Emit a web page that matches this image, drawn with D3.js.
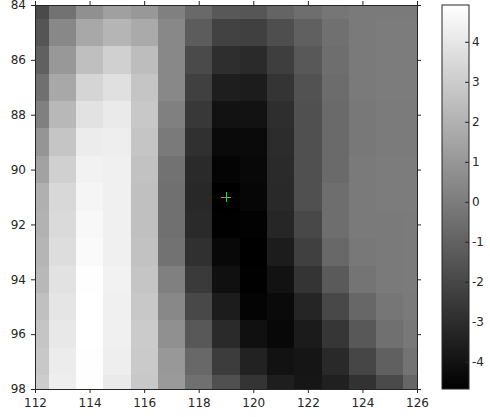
<!DOCTYPE html>
<html>
<head>
<meta charset="utf-8">
<script src="https://cdn.jsdelivr.net/npm/d3@7"></script>
<style>
  body { margin: 0; background: #fff; }
  text { font-family: "DejaVu Sans", sans-serif; font-size: 12px; fill: #262626; }
</style>
</head>
<body>
<div id="chart"></div>
<script>
// grid coordinates
const xValues = d3.range(112, 127);   // 112 .. 126
const yValues = d3.range(84, 99);     // 84 .. 98
const xTicks = [112, 114, 116, 118, 120, 122, 124, 126];
const yTicks = [84, 86, 88, 90, 92, 94, 96, 98];
const cbTicks = [-4, -3, -2, -1, 0, 1, 2, 3, 4];
const colorMin = -4.68, colorMax = 4.92;
const marker = [119, 91];

// one row per y value (84 at top), one entry per x value 112..126
const row84 = [-1.89, -0.39, 0.74, 1.34, 1.04, 0.14, -0.72, -1.37, -1.45, -0.90, -0.55, -0.25, -0.10, -0.09, -0.09];
const row85 = [-1.48, 0.44, 1.65, 2.13, 1.72, 0.44, -1.22, -2.20, -2.27, -1.74, -1.07, -0.46, -0.09, -0.02, -0.02];
const row86 = [-1.07, 1.04, 2.51, 3.15, 2.44, 0.44, -1.89, -2.95, -3.10, -2.35, -1.37, -0.54, -0.09, -0.02, -0.02];
const row87 = [-0.46, 1.65, 3.34, 3.75, 2.74, 0.44, -2.27, -3.55, -3.63, -2.72, -1.59, -0.61, -0.09, -0.02, -0.02];
const row88 = [0.14, 2.25, 3.83, 4.13, 2.85, 0.14, -2.57, -4.00, -4.00, -2.95, -1.67, -0.69, -0.16, -0.05, -0.05];
const row89 = [0.93, 2.74, 4.21, 4.28, 2.74, -0.09, -2.87, -4.30, -4.30, -3.02, -1.67, -0.69, -0.16, -0.05, -0.05];
const row90 = [1.42, 3.15, 4.43, 4.36, 2.62, -0.39, -3.10, -4.53, -4.38, -3.10, -1.67, -0.69, -0.09, -0.03, -0.03];
const row91 = [1.95, 3.45, 4.54, 4.36, 2.55, -0.46, -3.17, -4.68, -4.45, -3.13, -1.67, -0.54, -0.09, -0.02, -0.02];
const row92 = [2.02, 3.53, 4.66, 4.36, 2.55, -0.46, -3.10, -4.66, -4.60, -3.25, -1.97, -0.54, -0.09, -0.09, -0.05];
const row93 = [2.13, 3.64, 4.73, 4.36, 2.62, -0.39, -2.87, -4.38, -4.68, -3.63, -2.27, -0.76, -0.16, -0.09, -0.05];
const row94 = [2.25, 3.83, 4.88, 4.43, 2.74, 0.14, -2.50, -4.08, -4.66, -4.00, -2.72, -1.29, -0.31, -0.09, -0.05];
const row95 = [2.55, 3.94, 4.92, 4.36, 2.85, 0.44, -1.97, -3.63, -4.53, -4.30, -3.28, -1.97, -0.80, -0.24, -0.09];
const row96 = [2.74, 4.05, 4.92, 4.36, 2.96, 0.74, -1.37, -3.10, -4.08, -4.38, -3.66, -2.65, -1.37, -0.46, -0.16];
const row97 = [2.85, 4.21, 4.90, 4.28, 2.93, 1.04, -0.76, -2.42, -3.40, -4.00, -3.89, -3.13, -2.04, -1.07, -0.35];
const row98 = [3.00, 4.28, 4.90, 4.13, 2.85, 1.12, -0.46, -1.67, -2.72, -3.55, -3.85, -3.48, -2.80, -1.89, -0.84];
const rows = [row84, row85, row86, row87, row88, row89, row90, row91, row92, row93, row94, row95, row96, row97, row98];

const W = 490, H = 417;
const svg = d3.select("#chart").append("svg")
    .attr("width", W)
    .attr("height", H);

const x = d3.scaleLinear().domain([112, 126]).range([35, 417]);
const y = d3.scaleLinear().domain([84, 98]).range([5, 389]);
const color = d3.scaleLinear().domain([colorMin, colorMax]).range(["#000000", "#ffffff"]).clamp(true);

// flatten the grid into cells
const cells = [];
rows.forEach((r, j) => r.forEach((v, i) => cells.push({ xv: xValues[i], yv: yValues[j], v: v })));

svg.append("g")
    .attr("shape-rendering", "crispEdges")
    .selectAll("rect")
    .data(cells)
    .enter()
    .append("rect")
      .attr("x", d => x(Math.max(112, d.xv - 0.5)))
      .attr("y", d => y(Math.max(84, d.yv - 0.5)))
      .attr("width", d => x(Math.min(126, d.xv + 0.5)) - x(Math.max(112, d.xv - 0.5)) + 0.5)
      .attr("height", d => y(Math.min(98, d.yv + 0.5)) - y(Math.max(84, d.yv - 0.5)) + 0.5)
      .attr("fill", d => color(d.v));

// axes on all four sides, ticks pointing outward
const axisStyle = g => {
    g.selectAll(".domain").attr("stroke", "#262626");
    g.selectAll(".tick line").attr("stroke", "#262626");
    g.selectAll("text").attr("fill", "#262626").style("font-size", "12px");
};
svg.append("g")
    .attr("transform", "translate(0,389)")
    .call(d3.axisBottom(x).tickValues(xTicks).tickSize(4).tickSizeOuter(0).tickPadding(5))
    .call(axisStyle);
svg.append("g")
    .attr("transform", "translate(0,5)")
    .call(d3.axisTop(x).tickValues(xTicks).tickSize(4).tickSizeOuter(0).tickFormat(""))
    .call(axisStyle);
svg.append("g")
    .attr("transform", "translate(35,0)")
    .call(d3.axisLeft(y).tickValues(yTicks).tickSize(4).tickSizeOuter(0).tickPadding(5))
    .call(axisStyle);
svg.append("g")
    .attr("transform", "translate(417,0)")
    .call(d3.axisRight(y).tickValues(yTicks).tickSize(4).tickSizeOuter(0).tickFormat(""))
    .call(axisStyle);

// marker at the minimum
const mx = x(marker[0]), my = y(marker[1]);
svg.append("g")
    .attr("stroke", "#00ee00")
    .attr("stroke-width", 1)
    .attr("shape-rendering", "crispEdges")
    .call(g => {
        g.append("line").attr("x1", mx - 5).attr("x2", mx + 5).attr("y1", my + 0.5).attr("y2", my + 0.5);
        g.append("line").attr("x1", mx + 0.5).attr("x2", mx + 0.5).attr("y1", my - 5).attr("y2", my + 5);
    });

// colorbar
const cbX = 442, cbW = 27;
const cb = d3.scaleLinear().domain([colorMin, colorMax]).range([389, 5]);
const grad = svg.append("defs").append("linearGradient")
    .attr("id", "cbgrad")
    .attr("x1", 0).attr("y1", 1).attr("x2", 0).attr("y2", 0);
grad.append("stop").attr("offset", 0).attr("stop-color", color(colorMin));
grad.append("stop").attr("offset", 1).attr("stop-color", color(colorMax));

svg.append("rect")
    .attr("x", cbX)
    .attr("y", cb(colorMax))
    .attr("width", cbW)
    .attr("height", cb(colorMin) - cb(colorMax))
    .attr("fill", "url(#cbgrad)")
    .attr("stroke", "#262626")
    .attr("stroke-width", 1);

const cbAxis = svg.append("g")
    .attr("transform", `translate(${cbX + cbW},0)`)
    .call(d3.axisLeft(cb).tickValues(cbTicks).tickSize(4).tickSizeOuter(0).tickFormat(""))
    .call(axisStyle);
cbAxis.select(".domain").remove();

svg.append("g")
    .selectAll("text")
    .data(cbTicks)
    .enter()
    .append("text")
      .attr("x", cbX + cbW + 3)
      .attr("y", d => cb(d))
      .attr("dy", "0.32em")
      .text(d => d < 0 ? "-" + Math.abs(d) : d);
</script>
</body>
</html>
